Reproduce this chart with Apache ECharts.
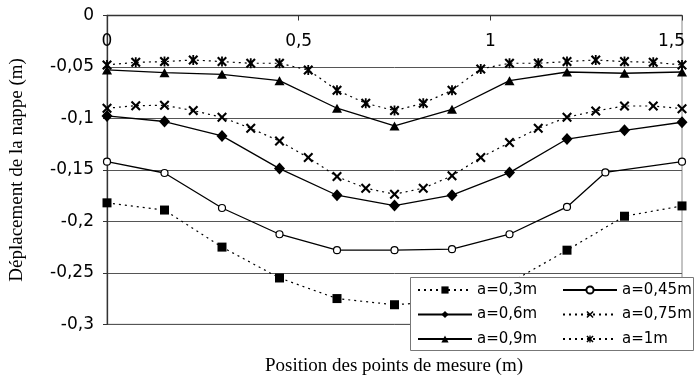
<!DOCTYPE html>
<html>
<head>
<meta charset="utf-8">
<script src="https://cdn.jsdelivr.net/npm/echarts@6/dist/echarts.min.js"></script>
<style>
html,body{margin:0;padding:0;background:#fff;}
#chart{width:696px;height:383px;}
</style>
</head>
<body>
<div id="chart"></div>
<script>
// ---- data ----
var xStep15 = [0, 0.15, 0.3, 0.45, 0.6, 0.75, 0.9, 1.05, 1.2, 1.35, 1.5];
var xA045 = [0, 0.15, 0.3, 0.45, 0.6, 0.75, 0.9, 1.05, 1.2, 1.3, 1.5];
var xStep075 = [0, 0.075, 0.15, 0.225, 0.3, 0.375, 0.45, 0.525, 0.6, 0.675, 0.75,
                0.825, 0.9, 0.975, 1.05, 1.125, 1.2, 1.275, 1.35, 1.425, 1.5];

var a03  = [-0.182, -0.189, -0.225, -0.255, -0.275, -0.281, -0.277, -0.26, -0.228, -0.195, -0.185];
var a045 = [-0.142, -0.153, -0.187, -0.2125, -0.228, -0.228, -0.227, -0.2125, -0.186, -0.1525, -0.142];
var a06  = [-0.0976, -0.103, -0.117, -0.1487, -0.1746, -0.1846, -0.1746, -0.1526, -0.12, -0.1115, -0.1037];
var a075 = [-0.0901, -0.0876, -0.0872, -0.0924, -0.0989, -0.1096, -0.122, -0.138, -0.1565, -0.1678, -0.1736,
            -0.1678, -0.1558, -0.138, -0.1235, -0.1096, -0.0989, -0.0927, -0.0879, -0.0879, -0.0905];
var a09  = [-0.0529, -0.0555, -0.0571, -0.0633, -0.0901, -0.1073, -0.0911, -0.0633, -0.0549, -0.0561, -0.0549];
var a1   = [-0.048, -0.0455, -0.0448, -0.0432, -0.0448, -0.0464, -0.0464, -0.0529, -0.0726, -0.0853, -0.0924,
            -0.0853, -0.0726, -0.0519, -0.0464, -0.0464, -0.0448, -0.0432, -0.0448, -0.0455, -0.048];

var seriesNames = ['a=0,3m', 'a=0,45m', 'a=0,6m', 'a=0,75m', 'a=0,9m', 'a=1m'];
var xTickLabels = {0: '0', 0.5: '0,5', 1: '1', 1.5: '1,5'};
var yAxisTitle = 'Déplacement de la nappe (m)';
var xAxisTitle = 'Position des points de mesure (m)';

function pairs(xs, ys) { return xs.map(function (x, i) { return [x, ys[i]]; }); }

var crossPath = 'path://M1.5,0 L5,3.5 L8.5,0 L10,1.5 L6.5,5 L10,8.5 L8.5,10 L5,6.5 L1.5,10 L0,8.5 L3.5,5 L0,1.5 Z';
var starPath = 'path://M1.5,0 L5,3.5 L8.5,0 L10,1.5 L6.5,5 L10,8.5 L8.5,10 L5,6.5 L1.5,10 L0,8.5 L3.5,5 L0,1.5 Z M4.1,0 L5.9,0 L5.9,10 L4.1,10 Z';

var dotted = [2, 4];

function mk(name, data, symbol, size, lineType, fillWhite) {
  return {
    name: name, type: 'line', data: data,
    symbol: symbol, symbolSize: size, showSymbol: true,
    lineStyle: {color: '#000', width: lineType === 'solid' ? 1.3 : 1.2, type: lineType},
    itemStyle: {color: fillWhite ? '#fff' : '#000', borderColor: '#000', borderWidth: fillWhite ? 1.2 : 0},
    emphasis: {disabled: true},
    animation: false, z: 3
  };
}

var series = [
  mk(seriesNames[0], pairs(xStep15, a03), 'rect', 9, dotted, false),
  mk(seriesNames[1], pairs(xA045, a045), 'circle', 7, 'solid', true),
  mk(seriesNames[2], pairs(xStep15, a06), 'diamond', [11, 12], 'solid', false),
  mk(seriesNames[3], pairs(xStep075, a075), crossPath, 10, dotted, false),
  mk(seriesNames[4], pairs(xStep15, a09), 'triangle', [10, 9], 'solid', false),
  mk(seriesNames[5], pairs(xStep075, a1), starPath, 10, dotted, false)
];

var fmtY = function (v) { return String(Math.round(v * 100) / 100).replace('.', ','); };

var legendCommon = {
  orient: 'vertical', itemWidth: 54, itemHeight: 9, itemGap: 8.5,
  textStyle: {fontFamily: 'DejaVu Sans', fontSize: 15, color: '#000', lineHeight: 16},
  selectedMode: false, z: 12, padding: 0
};

var chart = echarts.init(document.getElementById('chart'), null, {renderer: 'canvas'});
chart.setOption({
  backgroundColor: '#fff',
  animation: false,
  grid: {left: 102.7, right: 14, top: 15.5, bottom: 58.7, show: true, borderColor: '#888', borderWidth: 1, backgroundColor: 'transparent'},
  xAxis: {
    type: 'value', position: 'top', min: 0, max: 1.5, interval: 0.5,
    axisLine: {show: true, lineStyle: {color: '#333', width: 1.3}},
    axisTick: {show: true, inside: true, length: 5, lineStyle: {color: '#333'}},
    axisLabel: {
      inside: true, margin: 18, color: '#000', fontFamily: 'DejaVu Sans', fontSize: 17,
      formatter: function (v) { var t = xTickLabels[v] || String(v).replace('.', ','); return v === 1.5 ? '{r|' + t + '}' : t; },
      rich: {r: {fontFamily: 'DejaVu Sans', fontSize: 17, color: '#000', padding: [0, 21, 0, 0]}}
    },
    splitLine: {show: false}
  },
  yAxis: {
    type: 'value', min: -0.3, max: 0, interval: 0.05,
    name: yAxisTitle, nameLocation: 'middle', nameRotate: 90, nameGap: 80,
    nameTextStyle: {fontFamily: 'Liberation Serif', fontSize: 19, color: '#000'},
    axisLine: {show: true, lineStyle: {color: '#333', width: 1.3}},
    axisTick: {show: true, inside: false, length: 4, lineStyle: {color: '#333'}},
    axisLabel: {margin: 13, color: '#000', fontFamily: 'DejaVu Sans', fontSize: 17, formatter: fmtY},
    splitLine: {show: true, lineStyle: {color: '#555', width: 1}}
  },
  legend: [
    Object.assign({data: [seriesNames[0], seriesNames[2], seriesNames[4]], left: 417, top: 282}, legendCommon),
    Object.assign({data: [seriesNames[1], seriesNames[3], seriesNames[5]], left: 562, top: 282}, legendCommon)
  ],
  graphic: [
    {type: 'rect', z: 10, shape: {x: 410.5, y: 277.5, width: 283, height: 73},
     style: {fill: '#fff', stroke: '#777', lineWidth: 1}},
    {type: 'text', z: 10, x: 394, y: 366,
     style: {text: xAxisTitle, fill: '#000', font: '19px "Liberation Serif"', textAlign: 'center', textVerticalAlign: 'middle'}}
  ],
  series: series
});
</script>
</body>
</html>
